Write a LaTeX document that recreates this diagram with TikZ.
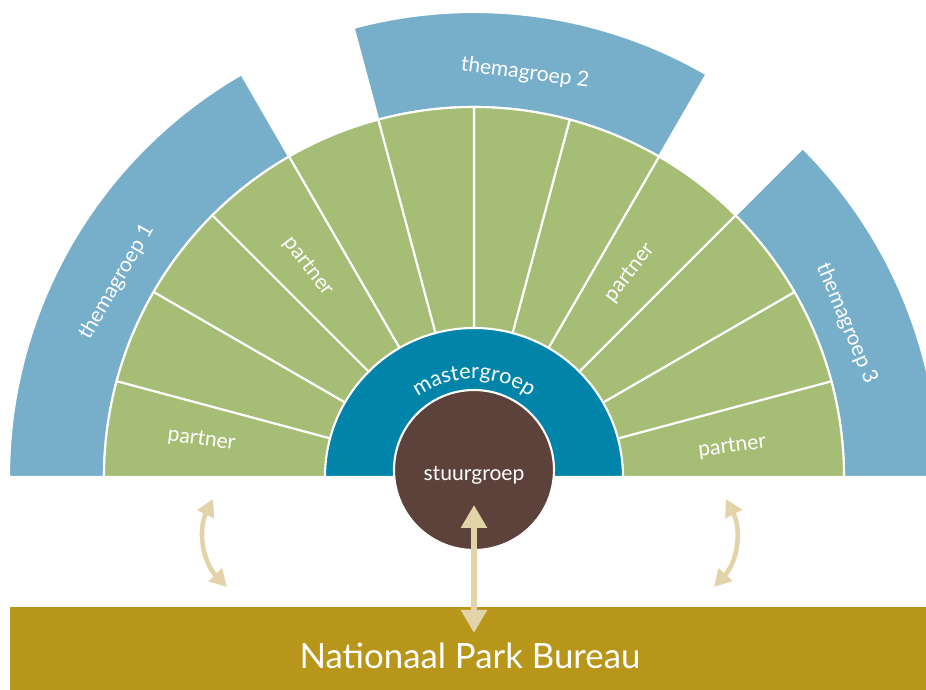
\documentclass[tikz,border=0pt]{standalone}
\usepackage{fontspec}
\setmainfont{Lato}
\usetikzlibrary{arrows.meta,calc,positioning,decorations.text}
\definecolor{ParkThema}{HTML}{77AFCB}
\definecolor{ParkPartner}{HTML}{A6BD76}
\definecolor{ParkMaster}{HTML}{0084A9}
\definecolor{ParkStuur}{HTML}{5D423C}
\definecolor{ParkArrow}{HTML}{E2D3A8}
\definecolor{ParkBureau}{HTML}{B8961A}

\begin{document}
\begin{tikzpicture}[
  x=1cm,y=1cm,
  >=Triangle,
  thema/.style={fill=ParkThema,draw=white,line width=1.2pt},
  slice/.style={fill=ParkPartner,draw=white,line width=1.2pt},
  master/.style={fill=ParkMaster,draw=white,line width=1.2pt},
  stuur/.style={circle,fill=ParkStuur,draw=white,line width=1.2pt,
    minimum size=3.2cm,inner sep=0pt},
  bureau/.style={fill=ParkBureau,minimum width=18.32cm,minimum height=1.66cm,
    inner sep=0pt},
  label/.style={text=white,font=\fontsize{12}{14}\selectfont,inner sep=0pt},
  link/.style={draw=ParkArrow,line width=3.2pt,
    {Triangle[length=4.6mm,width=5mm]}-{Triangle[length=4.6mm,width=5mm]}},
  swing/.style={draw=ParkArrow,line width=2.6pt,
    {Triangle[length=3.4mm,width=3.6mm]}-{Triangle[length=3.4mm,width=3.6mm]}}
]
  \useasboundingbox (-9.48,-4.26) rectangle (9.04,9.54);
  \clip (-9.48,-4.26) rectangle (9.04,9.54);

  % Outer ring: the three theme groups.
  \foreach \a/\b in {120/180,60/105,0/45}
    \draw[thema] (\a:7.4) arc[start angle=\a,end angle=\b,radius=7.4]
      -- (\b:9.3) arc[start angle=\b,end angle=\a,radius=9.3] -- cycle;

  % Twelve partner slices of 15 degrees each.
  \foreach \a in {0,15,...,165}
    \draw[slice] (0,0) -- (\a:7.4)
      arc[start angle=\a,end angle=\a+15,radius=7.4] -- cycle;

  % Master group half disc with the steering group on top.
  \draw[master] (2.98,0) arc[start angle=0,end angle=180,radius=2.98] -- cycle;
  \path[decorate,decoration={text along path,text align=center,text color=white,
      text={|\fontsize{12.3}{14}\selectfont|mastergroep}}]
    (150:1.96) arc[start angle=150,end angle=30,radius=1.96];
  \node[stuur] (stuur) at (0,0.14) {};
  \node[label] (stuurtext) at ([yshift=-0.1cm]stuur.center) {stuurgroep};

  % Partner and theme group labels.
  \node[label,rotate=-7.5]  (partnerA) at (172.3:5.5)  {partner};
  \node[label,rotate=-52.5] (partnerB) at (128.3:5.36) {partner};
  \node[label,rotate=52.5]  (partnerC) at (52.6:5.14)  {partner};
  \node[label,rotate=7.5]   (partnerD) at (6.6:5.2)    {partner};
  \node[label,rotate=60]    (themaA) at (151.4:8.14) {themagroep 1};
  \node[label,rotate=-7.5]  (themaB) at (82.8:8.14)  {themagroep 2};
  \node[label,rotate=-67.5] (themaC) at (22.4:8.06)  {themagroep 3};

  % Bureau bar at the bottom.
  \node[bureau] (bureau) at (-0.12,-3.43) {};
  \node[label,font=\fontsize{19.8}{23}\selectfont] (bureautext)
    at ([xshift=0.04cm,yshift=-0.15cm]bureau.center) {Nationaal Park Bureau};

  % Exchange arrows.
  \coordinate (stuurlink) at (0,-0.56);
  \coordinate (bureaulink) at (0,-3.12);
  \draw[link] (stuurlink) -- (bureaulink);
  \coordinate (leftTop) at (-5.22,-0.44);
  \coordinate (leftBot) at (-4.94,-2.2);
  \coordinate (rightTop) at (5.04,-0.44);
  \coordinate (rightBot) at (4.8,-2.2);
  \draw[swing] (leftTop) to[bend right=35] (leftBot);
  \draw[swing] (rightTop) to[bend left=35] (rightBot);
\end{tikzpicture}
\end{document}
